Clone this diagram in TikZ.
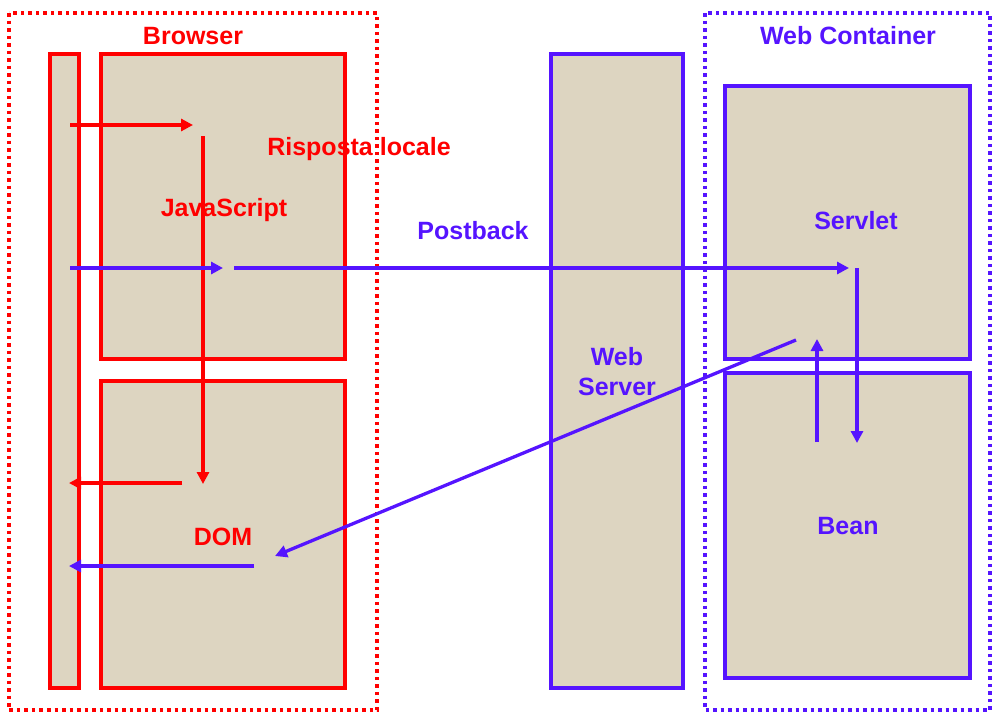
\documentclass[tikz,border=0pt]{standalone}
\usepackage{fontspec}
\setmainfont{Liberation Sans}
\usetikzlibrary{arrows.meta}
\definecolor{rd}{RGB}{255,0,0}
\definecolor{bl}{RGB}{85,20,255}
\definecolor{beige}{RGB}{221,213,193}
\begin{document}
\begin{tikzpicture}[x=1pt,y=-1pt,
  boxr/.style={draw=rd,line width=3.5pt,fill=beige},
  boxb/.style={draw=bl,line width=3.5pt,fill=beige},
  frame/.style={line width=3.5pt,dash pattern=on 3.5pt off 4pt},
  lbl/.style={font=\fontsize{25}{30}\selectfont\bfseries,inner sep=0pt,align=center},
  arr/.style={line width=3.3pt,-{Triangle[length=12pt,width=12pt]}}]
\useasboundingbox (0,0) rectangle (998,718);
% frames
\draw[frame,draw=rd] (9,13) rectangle (377,710);
\draw[frame,draw=bl] (705,13) rectangle (990,710);
% boxes
\draw[boxr] (50,54) rectangle (79,688);
\draw[boxr] (101,54) rectangle (345,359);
\draw[boxr] (101,381) rectangle (345,688);
\draw[boxb] (551,54) rectangle (683,688);
\draw[boxb] (725,86) rectangle (970,359);
\draw[boxb] (725,373) rectangle (970,678);
% labels
\node[lbl,text=rd] (browser) at (193,36) {Browser};
\node[lbl,text=rd] (risp) at (359,149) {Risposta locale};
\node[lbl,text=rd] (js) at (224,210) {JavaScript};
\node[lbl,text=rd] (dom) at (223,537) {DOM};
\node[lbl,text=bl] (post) at (473,231) {Postback};
\node[lbl,text=bl] (wc) at (848,36) {Web Container};
\node[lbl,text=bl] (servlet) at (856,221) {Servlet};
\node[lbl,text=bl] (ws) at (617,372) {Web\\Server};
\node[lbl,text=bl] (bean) at (848,526) {Bean};
% coordinates
\coordinate (a1) at (70,125); \coordinate (a2) at (193,125);
\coordinate (b1) at (203,136); \coordinate (b2) at (203,484);
\coordinate (c1) at (182,483); \coordinate (c2) at (69,483);
\coordinate (d1) at (70,268); \coordinate (d2) at (223,268);
\coordinate (e1) at (234,268); \coordinate (e2) at (849,268);
\coordinate (f1) at (857,268); \coordinate (f2) at (857,443);
\coordinate (g1) at (817,442); \coordinate (g2) at (817,339);
\coordinate (h1) at (796,340); \coordinate (h2) at (275,556);
\coordinate (i1) at (254,566); \coordinate (i2) at (69,566);
\draw[arr,rd] (a1) -- (a2);
\draw[arr,rd] (b1) -- (b2);
\draw[arr,rd] (c1) -- (c2);
\draw[arr,bl] (d1) -- (d2);
\draw[arr,bl] (e1) -- (e2);
\draw[arr,bl] (f1) -- (f2);
\draw[arr,bl] (g1) -- (g2);
\draw[arr,bl] (h1) -- (h2);
\draw[arr,bl] (i1) -- (i2);
\end{tikzpicture}
\end{document}
